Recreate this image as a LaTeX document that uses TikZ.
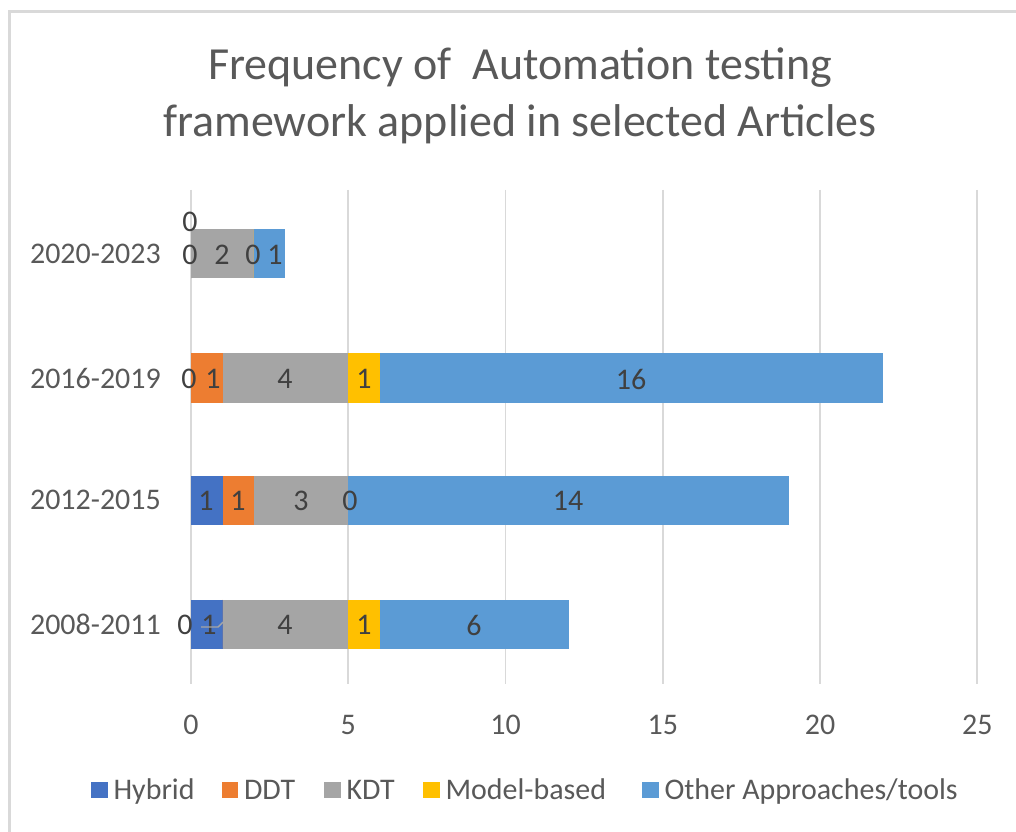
\documentclass[tikz,border=0pt]{standalone}
\usepackage{fontspec}
\setmainfont{Carlito}
\usetikzlibrary{positioning}

\definecolor{hybridc}{HTML}{4472C4}
\definecolor{ddtc}{HTML}{ED7D31}
\definecolor{kdtc}{HTML}{A5A5A5}
\definecolor{modelc}{HTML}{FFC000}
\definecolor{otherc}{HTML}{5B9BD5}
\definecolor{gridc}{HTML}{D9D9D9}
\definecolor{axisc}{HTML}{595959}
\definecolor{datac}{HTML}{404040}

\begin{document}
\begin{tikzpicture}[
      x=0.025cm, y=-0.025cm,
      frame/.style ={draw=gridc, line width=1.6pt},
      grid/.style  ={draw=gridc, line width=1.4pt},
      title/.style ={text=axisc, align=center, font=\fontsize{32.7}{40.5}\selectfont},
      axlbl/.style ={text=axisc, inner sep=0pt, font=\fontsize{21.3}{25}\selectfont},
      datlbl/.style={text=datac, inner sep=0pt, font=\fontsize{21.3}{25}\selectfont},
      key/.style   ={minimum width=12pt, minimum height=12pt, inner sep=0pt},
      keylbl/.style={axlbl, text height=13.7pt, text depth=0pt, right=3.6pt of #1}
    ]
    \useasboundingbox (0,0) rectangle (1016,832);

    % chart frame (only left and top edges visible)
    \draw[frame] (1016,11.5) -- (9.5,11.5) -- (9.5,832);

    % title
    \node[title] (T) at (520,96) {Frequency of\ \ Automation testing\\framework applied in selected Articles};

    % vertical gridlines and value axis labels
    \foreach \v in {0,5,...,25} {
      \draw[grid] (191+31.45*\v,190) -- (191+31.45*\v,684);
      \node[axlbl] (x\v) at (191+31.45*\v,725) {\v};
    }

    % stacked bars
    \begin{scope}[xshift=4.775cm, x=0.78625cm]
      \foreach \yc/\a/\b/\c/\d/\e in {254/0/0/2/0/1, 378/0/1/4/1/16, 500/1/1/3/0/14, 624/1/0/4/1/6} {
        \pgfmathsetmacro\sb{\a}
        \pgfmathsetmacro\sc{\a+\b}
        \pgfmathsetmacro\sd{\a+\b+\c}
        \pgfmathsetmacro\se{\a+\b+\c+\d}
        \pgfmathsetmacro\sf{\a+\b+\c+\d+\e}
        \fill[hybridc] (0,\yc-24.5)   rectangle (\sb,\yc+24.5);
        \fill[ddtc]    (\sb,\yc-24.5) rectangle (\sc,\yc+24.5);
        \fill[kdtc]    (\sc,\yc-24.5) rectangle (\sd,\yc+24.5);
        \fill[modelc]  (\sd,\yc-24.5) rectangle (\se,\yc+24.5);
        \fill[otherc]  (\se,\yc-24.5) rectangle (\sf,\yc+24.5);
      }
    \end{scope}

    % category labels
    \node[axlbl, anchor=east] (c1) at (161,254) {2020-2023};
    \node[axlbl, anchor=east] (c2) at (161,378) {2016-2019};
    \node[axlbl, anchor=east] (c3) at (161,500) {2012-2015};
    \node[axlbl, anchor=east] (c4) at (161,624) {2008-2011};

    % data labels 2020-2023
    \node[datlbl] (a1) at (190,222) {0};
    \node[datlbl] (a2) at (190,255) {0};
    \node[datlbl] (a3) at (222,255) {2};
    \node[datlbl] (a4) at (253,255) {0};
    \node[datlbl] (a5) at (275,255) {1};

    % data labels 2016-2019
    \node[datlbl] (b1) at (189,379) {0};
    \node[datlbl] (b2) at (213,379) {1};
    \node[datlbl] (b3) at (285,379) {4};
    \node[datlbl] (b4) at (364,379) {1};
    \node[datlbl] (b5) at (631,379) {16};

    % data labels 2012-2015
    \node[datlbl] (d1) at (206,501) {1};
    \node[datlbl] (d2) at (238,501) {1};
    \node[datlbl] (d3) at (301,501) {3};
    \node[datlbl] (d4) at (350,501) {0};
    \node[datlbl] (d5) at (568,501) {14};

    % data labels 2008-2011
    \node[datlbl] (e1) at (185,625) {0};
    \node[datlbl] (e2) at (209,625) {1};
    \node[datlbl] (e3) at (285,625) {4};
    \node[datlbl] (e4) at (364,625) {1};
    \node[datlbl] (e5) at (474,625) {6};
    \coordinate (eL) at (223,622);
    \draw[kdtc, line width=1pt] (e2.west |- 0,627) -- (218,627) -- (eL);

    % legend
    \node[key, fill=hybridc] (k1) at (99.5,790)  {};
    \node[keylbl=k1] (l1) {Hybrid};
    \node[key, fill=ddtc]    (k2) at (230,790)   {};
    \node[keylbl=k2] (l2) {DDT};
    \node[key, fill=kdtc]    (k3) at (332.5,790) {};
    \node[keylbl=k3] (l3) {KDT};
    \node[key, fill=modelc]  (k4) at (431.5,790) {};
    \node[keylbl=k4] (l4) {Model-based};
    \node[key, fill=otherc]  (k5) at (650.5,790) {};
    \node[keylbl=k5] (l5) {Other Approaches/tools};

  \end{tikzpicture}
\end{document}
